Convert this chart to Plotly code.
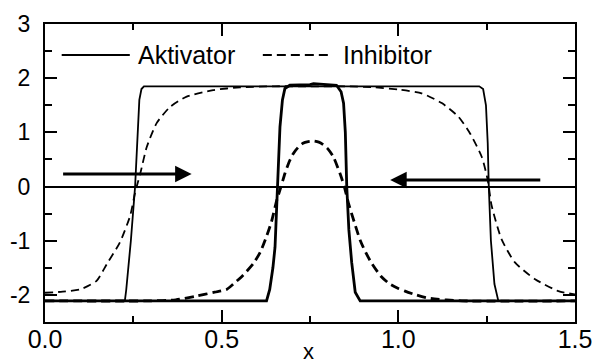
import plotly.graph_objects as go

# ---- data ----
# Aktivator, broad state (thin solid)
akt_wide_x = [0.0, 0.226, 0.230, 0.243, 0.255, 0.262, 0.267, 0.273, 0.280,
              1.229, 1.240, 1.248, 1.253, 1.256, 1.262, 1.272, 1.283, 1.5]
akt_wide_y = [-2.11, -2.11, -1.90, -1.00, 0.00, 1.00, 1.60, 1.80, 1.85,
              1.85, 1.80, 1.50, 0.80, 0.00, -1.00, -1.80, -2.11, -2.11]

# Inhibitor, broad state (thin dashed)
inh_wide_x = [0.0, 0.05, 0.099, 0.146, 0.175, 0.212, 0.241, 0.255, 0.270, 0.288,
              0.316, 0.354, 0.401, 0.476, 0.552, 0.65, 0.75, 0.85, 0.934, 1.00,
              1.066, 1.123, 1.170, 1.203, 1.236, 1.253, 1.264, 1.292, 1.330,
              1.387, 1.453, 1.5]
inh_wide_y = [-1.96, -1.94, -1.90, -1.74, -1.43, -1.03, -0.54, -0.11, 0.25, 0.73,
              1.17, 1.47, 1.66, 1.78, 1.83, 1.85, 1.85, 1.85, 1.83, 1.79,
              1.72, 1.54, 1.29, 0.98, 0.55, 0.12, -0.35, -0.97, -1.40,
              -1.71, -1.93, -1.99]

# Aktivator, narrow state (thick solid)
akt_narrow_x = [0.0, 0.627, 0.636, 0.645, 0.651, 0.658, 0.665, 0.672, 0.679, 0.693,
                0.75, 0.76, 0.825, 0.838, 0.845, 0.850, 0.854, 0.860, 0.868,
                0.878, 0.892, 1.5]
akt_narrow_y = [-2.11, -2.11, -1.90, -1.50, -1.12, 0.00, 1.10, 1.60, 1.81, 1.87,
                1.88, 1.90, 1.87, 1.75, 1.54, 1.00, 0.00, -0.80, -1.40,
                -1.95, -2.11, -2.11]

# Inhibitor, narrow state (thick dashed)
inh_narrow_x = [0.0, 0.30, 0.37, 0.43, 0.48, 0.514, 0.533, 0.56, 0.59, 0.61, 0.627,
                0.641, 0.656, 0.668, 0.679, 0.69, 0.703, 0.716, 0.73, 0.745, 0.76,
                0.775, 0.788, 0.80, 0.816, 0.835, 0.847, 0.859, 0.875, 0.892,
                0.908, 0.925, 0.95, 0.976, 1.0, 1.019, 1.05, 1.085, 1.18, 1.5]
inh_narrow_y = [-2.11, -2.11, -2.09, -2.02, -1.95, -1.90, -1.80, -1.64, -1.42, -1.20, -0.92,
                -0.65, -0.25, 0.00, 0.24, 0.44, 0.61, 0.72, 0.80, 0.83, 0.84,
                0.82, 0.77, 0.70, 0.55, 0.24, 0.00, -0.31, -0.65, -0.99,
                -1.22, -1.42, -1.65, -1.80, -1.88, -1.93, -2.00, -2.06, -2.11, -2.11]

# arrows (start x, tip x, y)
arrow_right = (0.047, 0.415, 0.23)
arrow_left = (1.406, 0.977, 0.12)

legend_labels = ["Aktivator", "Inhibitor"]
x_ticks = [0.0, 0.5, 1.0, 1.5]
y_ticks = [-2, -1, 0, 1, 2, 3]
x_title = "x"

FONT = "Liberation Sans, Arial, Helvetica, sans-serif"

fig = go.Figure()
fig.add_trace(go.Scatter(x=inh_wide_x, y=inh_wide_y, mode="lines", line_shape="spline",
                         line=dict(color="black", width=1.8, dash="8px,5px", smoothing=0.6)))
fig.add_trace(go.Scatter(x=akt_wide_x, y=akt_wide_y, mode="lines",
                         line=dict(color="black", width=1.8)))
fig.add_trace(go.Scatter(x=inh_narrow_x, y=inh_narrow_y, mode="lines", line_shape="spline",
                         line=dict(color="black", width=2.8, dash="9px,5px", smoothing=0.6)))
fig.add_trace(go.Scatter(x=akt_narrow_x, y=akt_narrow_y, mode="lines",
                         line=dict(color="black", width=2.8)))

for (x0, x1, y) in (arrow_right, arrow_left):
    fig.add_annotation(x=x1, y=y, ax=x0, ay=y, xref="x", yref="y", axref="x", ayref="y",
                       showarrow=True, arrowhead=2, arrowsize=1.1, arrowwidth=3,
                       arrowcolor="black", text="")

# legend drawn manually (paper coords)
leg_y = 0.896
fig.add_shape(type="line", xref="paper", yref="paper", x0=0.0315, x1=0.160, y0=leg_y, y1=leg_y,
              line=dict(color="black", width=2.2))
fig.add_shape(type="line", xref="paper", yref="paper", x0=0.411, x1=0.540, y0=leg_y, y1=leg_y,
              line=dict(color="black", width=2.2, dash="9px,5px"))
fig.add_annotation(text=legend_labels[0], xref="paper", yref="paper", x=0.172, y=leg_y,
                   xanchor="left", yanchor="middle", showarrow=False,
                   font=dict(family=FONT, size=25, color="black"))
fig.add_annotation(text=legend_labels[1], xref="paper", yref="paper", x=0.559, y=leg_y,
                   xanchor="left", yanchor="middle", showarrow=False,
                   font=dict(family=FONT, size=25, color="black"))
fig.add_annotation(text=x_title, xref="paper", yref="paper", x=0.497, y=-0.098,
                   xanchor="center", yanchor="middle", showarrow=False,
                   font=dict(family=FONT, size=22, color="black"))

axis_common = dict(showline=True, linecolor="black", linewidth=2, mirror="allticks",
                   ticks="inside", ticklen=12, tickwidth=1.5, tickcolor="black",
                   showgrid=False, automargin=False)

fig.update_xaxes(range=[0, 1.5], tickvals=x_ticks, ticktext=[f"{v:.1f}" for v in x_ticks],
                 minor=dict(ticks="inside", ticklen=6, tickwidth=1.5, tickcolor="black", dtick=0.25, showgrid=False),
                 zeroline=False, ticklabelstandoff=-6,
                 tickfont=dict(family=FONT, size=25, color="black"),
                 **axis_common)
fig.update_yaxes(range=[-2.5, 3], tickvals=y_ticks, ticktext=[str(v) for v in y_ticks],
                 minor=dict(ticks="inside", ticklen=7, tickwidth=1.5, tickcolor="black", dtick=0.5, showgrid=False),
                 zeroline=True, zerolinecolor="black", zerolinewidth=1.6, ticklabelstandoff=8,
                 tickfont=dict(family=FONT, size=23, color="black"),
                 **axis_common)

fig.update_layout(width=595, height=364, margin=dict(l=45, r=20, t=24, b=42),
                  plot_bgcolor="white", paper_bgcolor="white", showlegend=False,
                  font=dict(family=FONT, color="black"))

fig.write_html("out.html")
